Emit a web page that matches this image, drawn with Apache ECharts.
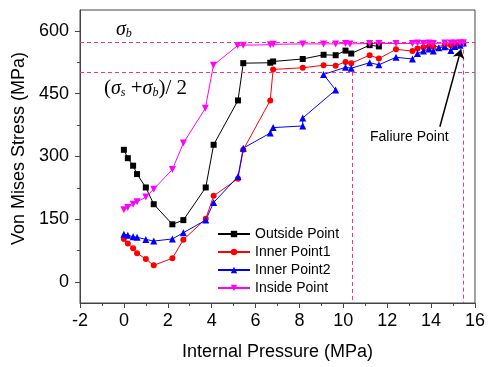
<!DOCTYPE html>
<html>
<head>
<meta charset="utf-8">
<script src="https://cdn.jsdelivr.net/npm/echarts@6/dist/echarts.min.js"></script>
<style>
  html, body { margin: 0; padding: 0; background: #fff; }
  #chart { width: 488px; height: 367px; }
</style>
</head>
<body>
<div id="chart"></div>
<script>
// pressure (MPa) / von Mises stress (MPa)
const outsideP = [0, 0.18, 0.42, 0.6, 1.0, 1.36, 2.21, 2.71, 3.73, 4.09, 5.2, 5.44, 6.67, 6.8, 8.15, 9.1, 9.65, 10.1, 10.36, 11.2, 11.62];
const outsideS = [316, 296, 278, 258, 226, 186, 138, 148, 226, 328, 434, 523, 524, 527, 533, 543, 542, 553, 546, 566, 563];

const inner1P = [0, 0.18, 0.42, 0.6, 1.0, 1.36, 2.21, 2.71, 3.73, 4.09, 5.2, 5.44, 6.67, 6.8, 8.15, 9.1, 9.65, 10.1, 10.36, 11.2, 11.62, 12.4, 13.15, 13.38, 13.65, 13.9, 14.1, 14.62, 14.9, 15.08, 15.32, 15.47];
const inner1S = [103, 92, 81, 69, 55, 40, 57, 101, 151, 206, 247, 316, 434, 508, 512, 518, 517, 526, 523, 542, 534, 556, 552, 558, 561, 563, 562, 565, 566, 567, 568, 570];

const inner2P = [0, 0.18, 0.42, 0.6, 1.0, 1.36, 2.21, 2.71, 3.73, 4.09, 5.2, 5.44, 6.67, 6.8, 8.15, 8.15, 9.65, 9.1, 10.1, 10.36, 11.2, 11.62, 12.4, 13.15, 13.38, 13.65, 13.9, 14.1, 14.35, 14.62, 14.9, 15.08, 15.32, 15.47];
const inner2S = [114, 112, 108, 107, 102, 98, 103, 118, 148, 190, 252, 320, 356, 369, 373, 392, 459, 496, 513, 511, 524, 519, 537, 533, 546, 552, 557, 552, 560, 562, 553, 563, 566, 571];

const insideP = [0, 0.18, 0.42, 0.6, 1.0, 1.36, 2.21, 2.71, 3.71, 4.08, 5.18, 5.44, 6.67, 6.8, 8.15, 9.1, 9.65, 10.1, 10.3, 11.2, 11.62, 12.4, 13.15, 13.38, 13.65, 13.9, 14.1, 14.62, 14.9, 15.08, 15.32, 15.47];
const insideS = [173, 178, 186, 192, 203, 222, 269, 332, 415, 518, 565, 566, 567, 568, 569, 569, 569, 570, 569, 570, 570, 570, 570, 571, 570, 571, 570, 571, 571, 571, 572, 572];

const seriesNames = ['Outside Point', 'Inner Point1', 'Inner Point2', 'Inside Point'];

// reference levels: sigma_b and (sigma_s + sigma_b)/2, and where they are reached
const sigmaB = 572;
const halfSum = 502;
const pressureAtHalf = 10.4;
const pressureAtFailure = 15.45;
const arrowFrom = [14.4, 371];
const arrowTo = [15.36, 556];

const yTicks = [0, 150, 300, 450, 600];
const yMinorTicks = [75, 225, 375, 525];

const pairs = (xs, ys) => xs.map((x, i) => [x, ys[i]]);

const font = "'Liberation Sans', Arial, sans-serif";
const serif = "'Liberation Serif', 'Times New Roman', serif";
const pink = '#ff2d8a';
const axisColor = '#444';

const chart = echarts.init(document.getElementById('chart'), null, { renderer: 'canvas' });

const lineSeries = (name, data, color, symbol, size, rotate) => ({
  name,
  type: 'line',
  data,
  color,
  symbol,
  symbolSize: size,
  symbolRotate: rotate || 0,
  lineStyle: { width: 1, color },
  itemStyle: { color },
  z: 3,
});

chart.setOption({
  animation: false,
  textStyle: { fontFamily: font },
  grid: {
    left: 80, right: 12, top: 10, bottom: 64,
    show: true, borderColor: axisColor, borderWidth: 1,
  },
  legend: {
    data: seriesNames,
    orient: 'vertical',
    left: 212,
    top: 221,
    itemWidth: 32,
    itemHeight: 8,
    itemGap: 2,
    textStyle: { fontSize: 14, lineHeight: 16, color: '#000', fontFamily: font },
  },
  xAxis: {
    type: 'value',
    min: -2,
    max: 16,
    interval: 2,
    name: 'Internal Pressure (MPa)',
    nameLocation: 'middle',
    nameGap: 40,
    nameTextStyle: { fontSize: 18, color: '#000', fontFamily: font },
    axisLine: { onZero: false, lineStyle: { color: axisColor, width: 1 } },
    axisTick: { length: 5, lineStyle: { color: axisColor } },
    minorTick: { show: true, splitNumber: 2, length: 3, lineStyle: { color: axisColor } },
    axisLabel: { fontSize: 18, color: '#000', margin: 9, fontFamily: font },
    splitLine: { show: false },
  },
  yAxis: [
    {
      type: 'value',
      min: -50,
      max: 650,
      name: 'Von Mises Stress (MPa)',
      nameLocation: 'middle',
      nameGap: 52,
      nameTextStyle: { fontSize: 18, color: '#000', fontFamily: font, padding: [0, 0, 0, 16] },
      axisLine: { show: true, onZero: false, lineStyle: { color: axisColor, width: 1 } },
      axisTick: { show: true, length: 5, customValues: yTicks, lineStyle: { color: axisColor } },
      axisLabel: { fontSize: 18, color: '#000', margin: 11, customValues: yTicks, fontFamily: font },
      splitLine: { show: false },
    },
    {
      type: 'value',
      min: -50,
      max: 650,
      position: 'left',
      axisLine: { show: false, onZero: false },
      axisTick: { show: true, length: 3, customValues: yMinorTicks, lineStyle: { color: axisColor } },
      axisLabel: { show: false },
      splitLine: { show: false },
    },
  ],
  series: [
    lineSeries(seriesNames[0], pairs(outsideP, outsideS), '#000000', 'rect', 6),
    lineSeries(seriesNames[1], pairs(inner1P, inner1S), '#ff0000', 'circle', 6),
    lineSeries(seriesNames[2], pairs(inner2P, inner2S), '#0000ff', 'triangle', 7),
    lineSeries(seriesNames[3], pairs(insideP, insideS), '#ff00ff', 'triangle', 7, 180),
    {
      name: 'refs',
      type: 'line',
      data: [],
      silent: true,
      z: 2,
      markLine: {
        silent: true,
        symbol: 'none',
        label: { show: false },
        lineStyle: { color: pink, type: [4, 3], width: 1 },
        data: [
          [{ coord: [-2, sigmaB] }, { coord: [16, sigmaB] }],
          [{ coord: [-2, halfSum] }, { coord: [16, halfSum] }],
          [{ coord: [pressureAtHalf, halfSum] }, { coord: [pressureAtHalf, -50] }],
          [{ coord: [pressureAtFailure, sigmaB] }, { coord: [pressureAtFailure, -50] }],
        ],
      },
    },
    {
      name: 'arrow',
      type: 'line',
      data: [],
      silent: true,
      z: 4,
      markLine: {
        silent: true,
        symbol: ['none', 'arrow'],
        symbolSize: 9,
        label: { show: false },
        lineStyle: { color: '#000', type: 'solid', width: 1.5 },
        data: [[{ coord: arrowFrom }, { coord: arrowTo }]],
      },
    },
  ],
  graphic: [
    {
      type: 'text',
      left: 370,
      top: 130,
      style: { text: 'Faliure Point', fontSize: 14, fontFamily: font, fill: '#000' },
    },
    {
      type: 'text',
      left: 116,
      top: 20,
      style: {
        text: '{i|σ}{sub|b}',
        rich: {
          i: { fontSize: 20, fontStyle: 'italic', fontFamily: serif, fill: '#000' },
          sub: { fontSize: 12, fontStyle: 'italic', fontFamily: serif, fill: '#000', verticalAlign: 'bottom' },
        },
      },
    },
    {
      type: 'text',
      left: 104,
      top: 78,
      style: {
        text: '{p|(}{i|σ}{sub|s}{p| +}{i|σ}{sub|b}{p|)/ 2}',
        rich: {
          p: { fontSize: 21, fontFamily: serif, fill: '#000' },
          i: { fontSize: 20, fontStyle: 'italic', fontFamily: serif, fill: '#000' },
          sub: { fontSize: 12, fontStyle: 'italic', fontFamily: serif, fill: '#000', verticalAlign: 'bottom' },
        },
      },
    },
  ],
});

window.addEventListener('resize', () => chart.resize());
</script>
</body>
</html>
